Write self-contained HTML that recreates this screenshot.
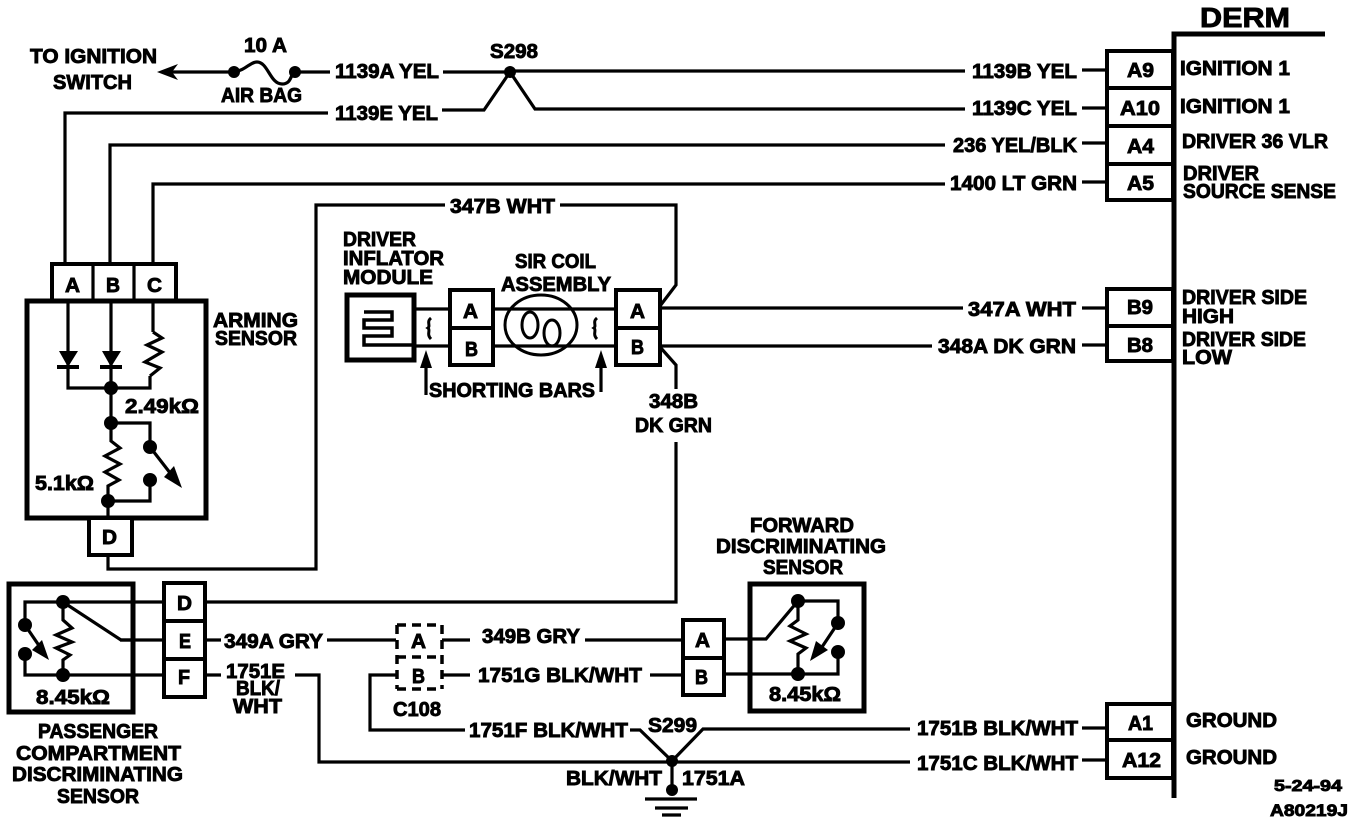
<!DOCTYPE html>
<html>
<head>
<meta charset="utf-8">
<style>
html,body{margin:0;padding:0;background:#fff;width:1360px;height:824px;overflow:hidden}
svg{display:block}
.w{fill:none;stroke:#000;stroke-width:3.2;stroke-linejoin:miter}
.b{fill:#fff;stroke:#000;stroke-width:4}
text{font-family:"Liberation Sans",sans-serif;font-weight:bold;font-size:20.5px;fill:#000;stroke:#000;stroke-width:.9}
</style>
</head>
<body>
<svg width="1360" height="824" viewBox="0 0 1360 824" xmlns="http://www.w3.org/2000/svg">
<!-- DERM bus -->
<path d="M1325,34 H1174 V798" fill="none" stroke="#000" stroke-width="5"/>
<rect class="b" x="1107" y="51" width="66" height="37"/>
<rect class="b" x="1107" y="88" width="66" height="38"/>
<rect class="b" x="1107" y="126" width="66" height="38"/>
<rect class="b" x="1107" y="164" width="66" height="36"/>
<rect class="b" x="1107" y="289" width="66" height="37"/>
<rect class="b" x="1107" y="326" width="66" height="35"/>
<rect class="b" x="1107" y="704" width="66" height="36"/>
<rect class="b" x="1107" y="740" width="66" height="38"/>

<!-- top wires -->
<path class="w" d="M510,71 H965 M1082,70 H1105"/>
<path class="w" d="M442,110 H484 L510,72 L535,109 H965 M1082,108 H1105"/>
<path class="w" d="M110,265 V145 H945 M1082,143 H1105"/>
<path class="w" d="M153,265 V184 H945 M1082,182 H1105"/>
<path class="w" d="M65,265 V113 H328"/>
<path class="w" d="M170,72 H234 M295,72 H330 M443,72 H510"/>
<path d="M157,72 L178,64 L172,72 L178,80 Z" fill="#000"/>
<path class="w" d="M234,72 C246,70 250,62 257,62 C268,62 270,84 282,84 C292,84 290,74 295,72"/>
<circle cx="234" cy="72" r="6"/>
<circle cx="295" cy="72" r="6"/>
<circle cx="510" cy="72" r="6"/>

<!-- arming sensor -->
<rect x="52" y="264" width="124" height="37" class="b"/>
<path class="w" d="M93,264 V300 M134,264 V300"/>
<rect x="27" y="301" width="179" height="217" fill="#fff" stroke="#000" stroke-width="5"/>
<rect x="89" y="518" width="43" height="37" class="b"/>
<path class="w" d="M68,300 V388 H150 V376 M111,300 V423 M153,300 V332"/>
<path d="M59,351 H78 L68,367 Z M102,351 H121 L111,367 Z" fill="#000"/>
<path d="M57,365 H79 V369 H57 Z M100,365 H122 V369 H100 Z" fill="#000"/>
<path class="w" d="M153,332 L162,338 L147,345 L162,352 L145,362 L160,368 L150,376"/>
<path class="w" d="M111,423 H150 V447 M111,423 V441 L120,448 L105,456 L120,464 L105,472 L119,480 L108,486 V518 M108,501 H150 V480"/>
<path class="w" d="M150,447 L174,478"/>
<path d="M182,488 L164,477 L174,466 Z" fill="#000"/>
<circle cx="111" cy="388" r="7"/>
<circle cx="111" cy="423" r="7"/>
<circle cx="108" cy="501" r="7"/>
<circle cx="150" cy="447" r="7"/>
<circle cx="150" cy="480" r="7"/>
<path class="w" d="M108,555 V569 H316 V205 H445 M560,205 H676 V285 L660,306"/>

<!-- inflator + SIR coil -->
<rect x="347" y="295" width="67" height="65" fill="#fff" stroke="#000" stroke-width="5"/>
<path class="w" d="M414,309 H449 M414,346 H449 M493,309 H616 M493,346 H616 M660,308 H963 M1082,308 H1105 M660,346 H932 M1082,345 H1105"/>
<path d="M414,345 H364 V336 H392 V328 H364 V320 H392 V312 H364" fill="none" stroke="#000" stroke-width="3.5"/>
<rect x="450" y="290" width="43" height="38" class="b" stroke-width="5"/>
<rect x="450" y="328" width="43" height="37" class="b"/>
<rect x="616" y="290" width="44" height="38" class="b"/>
<rect x="616" y="328" width="44" height="37" class="b"/>
<ellipse cx="541" cy="325" rx="36" ry="30" fill="none" stroke="#000" stroke-width="3"/>
<ellipse cx="530" cy="325" rx="8" ry="13" fill="none" stroke="#000" stroke-width="3"/>
<ellipse cx="552" cy="333" rx="8" ry="13" fill="none" stroke="#000" stroke-width="3"/>
<path d="M431,318 C426,322 431,326 428,328 C431,330 426,334 431,339" fill="none" stroke="#000" stroke-width="3"/>
<path d="M597,318 C592,322 597,326 594,328 C597,330 592,334 597,339" fill="none" stroke="#000" stroke-width="3"/>
<path class="w" d="M426,395 V360 M601,392 V360"/>
<path d="M426,350 L420,368 H432 Z M601,350 L595,368 H607 Z" fill="#000"/>
<path class="w" d="M660,347 L676,365 V389 M676,442 V602 H205"/>

<!-- passenger sensor -->
<rect x="9" y="584" width="124" height="128" fill="#fff" stroke="#000" stroke-width="5"/>
<rect x="164" y="583" width="41" height="38" class="b" stroke-width="5"/>
<rect x="164" y="621" width="41" height="38" class="b"/>
<rect x="164" y="659" width="41" height="38" class="b"/>
<path class="w" d="M133,602 H164 M120,640 H164 M133,675 H164"/>
<path class="w" d="M25,625 V602 H133 M25,654 V675 H133 M63,602 V620 L72,628 L56,635 L72,642 L56,648 L70,655 L63,660 V675 M63,602 L121,640 H133"/>
<path class="w" d="M25,625 L42,650"/>
<path d="M49,660 L32,650 L42,640 Z" fill="#000"/>
<circle cx="63" cy="602" r="7"/>
<circle cx="63" cy="675" r="7"/>
<circle cx="25" cy="625" r="7"/>
<circle cx="25" cy="654" r="7"/>
<path class="w" d="M205,640 H221 M205,675 H221 M327,640 H396 M295,675 H319 V762 H910 M1082,760 H1105"/>

<!-- C108 -->
<path d="M397,625 H442 M397,689 H442 M397,657 H442 M397,625 V689 M442,625 V689" fill="none" stroke="#000" stroke-width="3.5" stroke-dasharray="9 6"/>
<path class="w" d="M442,640 H470 M442,675 H470 M585,640 H682 M650,675 H682"/>
<path class="w" d="M396,675 H370 V730 H465 M630,730 H640 L672,761 L703,729 H910 M1082,728 H1105"/>

<!-- forward sensor -->
<rect x="683" y="620" width="41" height="38" class="b" stroke-width="5"/>
<rect x="683" y="658" width="41" height="37" class="b"/>
<rect x="750" y="584" width="114" height="127" fill="#fff" stroke="#000" stroke-width="5"/>
<path class="w" d="M724,639 H766 L798,601 H838 V623 M724,674 H838 V652"/>
<path class="w" d="M798,601 V620 L790,626 L806,634 L790,641 L806,648 L798,654 V674"/>
<path class="w" d="M838,623 L820,650"/>
<path d="M810,661 L816,641 L828,650 Z" fill="#000"/>
<circle cx="798" cy="601" r="7"/>
<circle cx="798" cy="674" r="7"/>
<circle cx="838" cy="623" r="7"/>
<circle cx="838" cy="652" r="7"/>

<!-- ground -->
<circle cx="672" cy="761" r="6"/>
<circle cx="672" cy="790" r="6"/>
<path class="w" d="M672,761 V790 M645,799 H697 M655,808 H688 M662,815 H681"/>

<!-- text -->
<text x="1200" y="27" style="font-size:28px" textLength="90" lengthAdjust="spacingAndGlyphs">DERM</text>
<text x="1180" y="75" textLength="110" lengthAdjust="spacingAndGlyphs">IGNITION 1</text>
<text x="1180" y="113" textLength="110" lengthAdjust="spacingAndGlyphs">IGNITION 1</text>
<text x="1182" y="148" textLength="146" lengthAdjust="spacingAndGlyphs">DRIVER 36 VLR</text>
<text x="1183" y="180" textLength="76" lengthAdjust="spacingAndGlyphs">DRIVER</text>
<text x="1183" y="198" textLength="153" lengthAdjust="spacingAndGlyphs">SOURCE SENSE</text>
<text x="1182" y="304" textLength="125" lengthAdjust="spacingAndGlyphs">DRIVER SIDE</text>
<text x="1182" y="323" textLength="52" lengthAdjust="spacingAndGlyphs">HIGH</text>
<text x="1182" y="346" textLength="124" lengthAdjust="spacingAndGlyphs">DRIVER SIDE</text>
<text x="1182" y="364" textLength="50" lengthAdjust="spacingAndGlyphs">LOW</text>
<text x="1186" y="727" textLength="91" lengthAdjust="spacingAndGlyphs">GROUND</text>
<text x="1186" y="764" textLength="91" lengthAdjust="spacingAndGlyphs">GROUND</text>
<text x="1274" y="791" style="font-size:16px" textLength="68" lengthAdjust="spacingAndGlyphs">5-24-94</text>
<text x="1270" y="816" style="font-size:17px" textLength="78" lengthAdjust="spacingAndGlyphs">A80219J</text>

<text x="1127" y="77" textLength="27" lengthAdjust="spacingAndGlyphs">A9</text>
<text x="1120" y="115" textLength="40" lengthAdjust="spacingAndGlyphs">A10</text>
<text x="1127" y="153" textLength="27" lengthAdjust="spacingAndGlyphs">A4</text>
<text x="1127" y="190" textLength="27" lengthAdjust="spacingAndGlyphs">A5</text>
<text x="1127" y="314" textLength="26" lengthAdjust="spacingAndGlyphs">B9</text>
<text x="1127" y="352" textLength="26" lengthAdjust="spacingAndGlyphs">B8</text>
<text x="1128" y="730" textLength="25" lengthAdjust="spacingAndGlyphs">A1</text>
<text x="1122" y="767" textLength="39" lengthAdjust="spacingAndGlyphs">A12</text>

<text x="972" y="78" textLength="105" lengthAdjust="spacingAndGlyphs">1139B YEL</text>
<text x="972" y="115" textLength="105" lengthAdjust="spacingAndGlyphs">1139C YEL</text>
<text x="953" y="152" textLength="124" lengthAdjust="spacingAndGlyphs">236 YEL/BLK</text>
<text x="950" y="190" textLength="127" lengthAdjust="spacingAndGlyphs">1400 LT GRN</text>
<text x="968" y="316" textLength="108" lengthAdjust="spacingAndGlyphs">347A WHT</text>
<text x="938" y="353" textLength="138" lengthAdjust="spacingAndGlyphs">348A DK GRN</text>
<text x="917" y="735" textLength="161" lengthAdjust="spacingAndGlyphs">1751B BLK/WHT</text>
<text x="917" y="770" textLength="161" lengthAdjust="spacingAndGlyphs">1751C BLK/WHT</text>

<text x="30" y="63" textLength="127" lengthAdjust="spacingAndGlyphs">TO IGNITION</text>
<text x="53" y="89" textLength="79" lengthAdjust="spacingAndGlyphs">SWITCH</text>
<text x="244" y="52" textLength="43" lengthAdjust="spacingAndGlyphs">10 A</text>
<text x="221" y="102" textLength="81" lengthAdjust="spacingAndGlyphs">AIR BAG</text>
<text x="335" y="78" textLength="104" lengthAdjust="spacingAndGlyphs">1139A YEL</text>
<text x="335" y="120" textLength="103" lengthAdjust="spacingAndGlyphs">1139E YEL</text>
<text x="490" y="58" textLength="48" lengthAdjust="spacingAndGlyphs">S298</text>
<text x="450" y="213" textLength="105" lengthAdjust="spacingAndGlyphs">347B WHT</text>

<text x="65" y="292" textLength="15" lengthAdjust="spacingAndGlyphs">A</text>
<text x="106" y="292" textLength="14" lengthAdjust="spacingAndGlyphs">B</text>
<text x="147" y="292" textLength="15" lengthAdjust="spacingAndGlyphs">C</text>
<text x="102" y="544" textLength="15" lengthAdjust="spacingAndGlyphs">D</text>
<text x="213" y="327" textLength="85" lengthAdjust="spacingAndGlyphs">ARMING</text>
<text x="215" y="345" textLength="82" lengthAdjust="spacingAndGlyphs">SENSOR</text>
<text x="125" y="413" textLength="74" lengthAdjust="spacingAndGlyphs">2.49kΩ</text>
<text x="35" y="490" textLength="59" lengthAdjust="spacingAndGlyphs">5.1kΩ</text>

<text x="343" y="246" textLength="73" lengthAdjust="spacingAndGlyphs">DRIVER</text>
<text x="343" y="265" textLength="101" lengthAdjust="spacingAndGlyphs">INFLATOR</text>
<text x="343" y="284" textLength="90" lengthAdjust="spacingAndGlyphs">MODULE</text>
<text x="515" y="268" textLength="81" lengthAdjust="spacingAndGlyphs">SIR COIL</text>
<text x="501" y="291" textLength="110" lengthAdjust="spacingAndGlyphs">ASSEMBLY</text>
<text x="463" y="318" textLength="15" lengthAdjust="spacingAndGlyphs">A</text>
<text x="465" y="356" textLength="13" lengthAdjust="spacingAndGlyphs">B</text>
<text x="630" y="318" textLength="15" lengthAdjust="spacingAndGlyphs">A</text>
<text x="631" y="354" textLength="13" lengthAdjust="spacingAndGlyphs">B</text>
<text x="429" y="397" textLength="166" lengthAdjust="spacingAndGlyphs">SHORTING BARS</text>
<text x="649" y="408" textLength="49" lengthAdjust="spacingAndGlyphs">348B</text>
<text x="635" y="432" textLength="77" lengthAdjust="spacingAndGlyphs">DK GRN</text>

<text x="177" y="610" textLength="15" lengthAdjust="spacingAndGlyphs">D</text>
<text x="179" y="648" textLength="12" lengthAdjust="spacingAndGlyphs">E</text>
<text x="178" y="684" textLength="12" lengthAdjust="spacingAndGlyphs">F</text>
<text x="36" y="704" textLength="74" lengthAdjust="spacingAndGlyphs">8.45kΩ</text>
<text x="38" y="738" textLength="120" lengthAdjust="spacingAndGlyphs">PASSENGER</text>
<text x="16" y="760" textLength="165" lengthAdjust="spacingAndGlyphs">COMPARTMENT</text>
<text x="12" y="781" textLength="171" lengthAdjust="spacingAndGlyphs">DISCRIMINATING</text>
<text x="57" y="803" textLength="82" lengthAdjust="spacingAndGlyphs">SENSOR</text>
<text x="224" y="648" textLength="99" lengthAdjust="spacingAndGlyphs">349A GRY</text>
<text x="226" y="678" textLength="59" lengthAdjust="spacingAndGlyphs">1751E</text>
<text x="236" y="695" textLength="44" lengthAdjust="spacingAndGlyphs">BLK/</text>
<text x="233" y="713" textLength="49" lengthAdjust="spacingAndGlyphs">WHT</text>

<text x="411" y="648" textLength="15" lengthAdjust="spacingAndGlyphs">A</text>
<text x="412" y="683" textLength="13" lengthAdjust="spacingAndGlyphs">B</text>
<text x="393" y="716" textLength="48" lengthAdjust="spacingAndGlyphs">C108</text>
<text x="482" y="643" textLength="98" lengthAdjust="spacingAndGlyphs">349B GRY</text>
<text x="478" y="682" textLength="164" lengthAdjust="spacingAndGlyphs">1751G BLK/WHT</text>
<text x="469" y="737" textLength="159" lengthAdjust="spacingAndGlyphs">1751F BLK/WHT</text>
<text x="648" y="732" textLength="49" lengthAdjust="spacingAndGlyphs">S299</text>
<text x="566" y="785" textLength="96" lengthAdjust="spacingAndGlyphs">BLK/WHT</text>
<text x="682" y="785" textLength="63" lengthAdjust="spacingAndGlyphs">1751A</text>
<text x="695" y="647" textLength="15" lengthAdjust="spacingAndGlyphs">A</text>
<text x="695" y="684" textLength="13" lengthAdjust="spacingAndGlyphs">B</text>
<text x="750" y="532" textLength="104" lengthAdjust="spacingAndGlyphs">FORWARD</text>
<text x="716" y="553" textLength="170" lengthAdjust="spacingAndGlyphs">DISCRIMINATING</text>
<text x="763" y="574" textLength="80" lengthAdjust="spacingAndGlyphs">SENSOR</text>
<text x="769" y="701" textLength="72" lengthAdjust="spacingAndGlyphs">8.45kΩ</text>
</svg>
</body>
</html>
